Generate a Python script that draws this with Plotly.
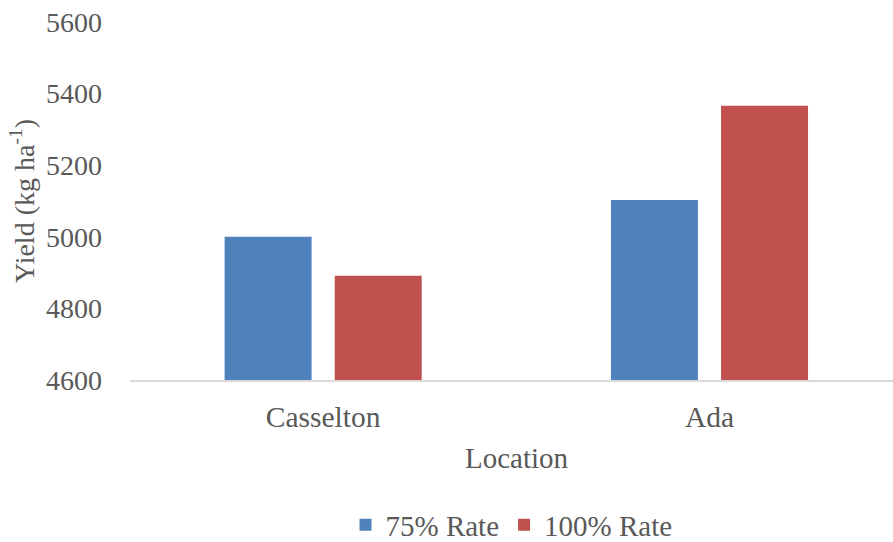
import plotly.graph_objects as go

locations = ["Casselton", "Ada"]
rate_75 = [5000, 5103]
rate_100 = [4891, 5366]
series_names = ["75% Rate", "100% Rate"]
y_ticks = [4600, 4800, 5000, 5200, 5400, 5600]

FONT = "Times New Roman"
TEXT = "#595959"

fig = go.Figure()
fig.add_trace(go.Bar(name=series_names[0], x=locations, y=rate_75,
                     marker=dict(color="#4f81bd", line=dict(width=0))))
fig.add_trace(go.Bar(name=series_names[1], x=locations, y=rate_100,
                     marker=dict(color="#c0504d", line=dict(width=0))))

fig.update_layout(
    width=893, height=542,
    margin=dict(l=130, r=0, t=22, b=162, autoexpand=False),
    paper_bgcolor="white", plot_bgcolor="white",
    barmode="group", bargap=0.43, bargroupgap=0.21,
    font=dict(family=FONT, size=28, color=TEXT),
    showlegend=True,
    legend=dict(orientation="h", x=0.5, xanchor="center", y=-0.405, yanchor="middle",
                font=dict(family=FONT, size=29, color=TEXT), itemwidth=30,
                traceorder="normal"),
    xaxis=dict(
        range=[-0.5, 1.475], showgrid=False, showline=True, linecolor="#d9d9d9",
        linewidth=1.5, ticks="", ticklabelstandoff=10,
        tickfont=dict(family=FONT, size=29.5, color=TEXT),
    ),
    yaxis=dict(
        range=[4600, 5600], tickvals=y_ticks, showgrid=False, zeroline=False,
        showline=False, ticks="", ticklabelstandoff=27,
        tickfont=dict(family=FONT, size=28, color=TEXT),
        title=dict(text="Yield (kg ha<sup>-1</sup>)", font=dict(family=FONT, size=28, color=TEXT),
                   standoff=3),
    ),
    annotations=[dict(
        text="Location", xref="paper", yref="paper", x=0.507, y=-0.219,
        xanchor="center", yanchor="middle", showarrow=False,
        font=dict(family=FONT, size=29, color=TEXT),
    )],
)

fig.write_html("out.html")
